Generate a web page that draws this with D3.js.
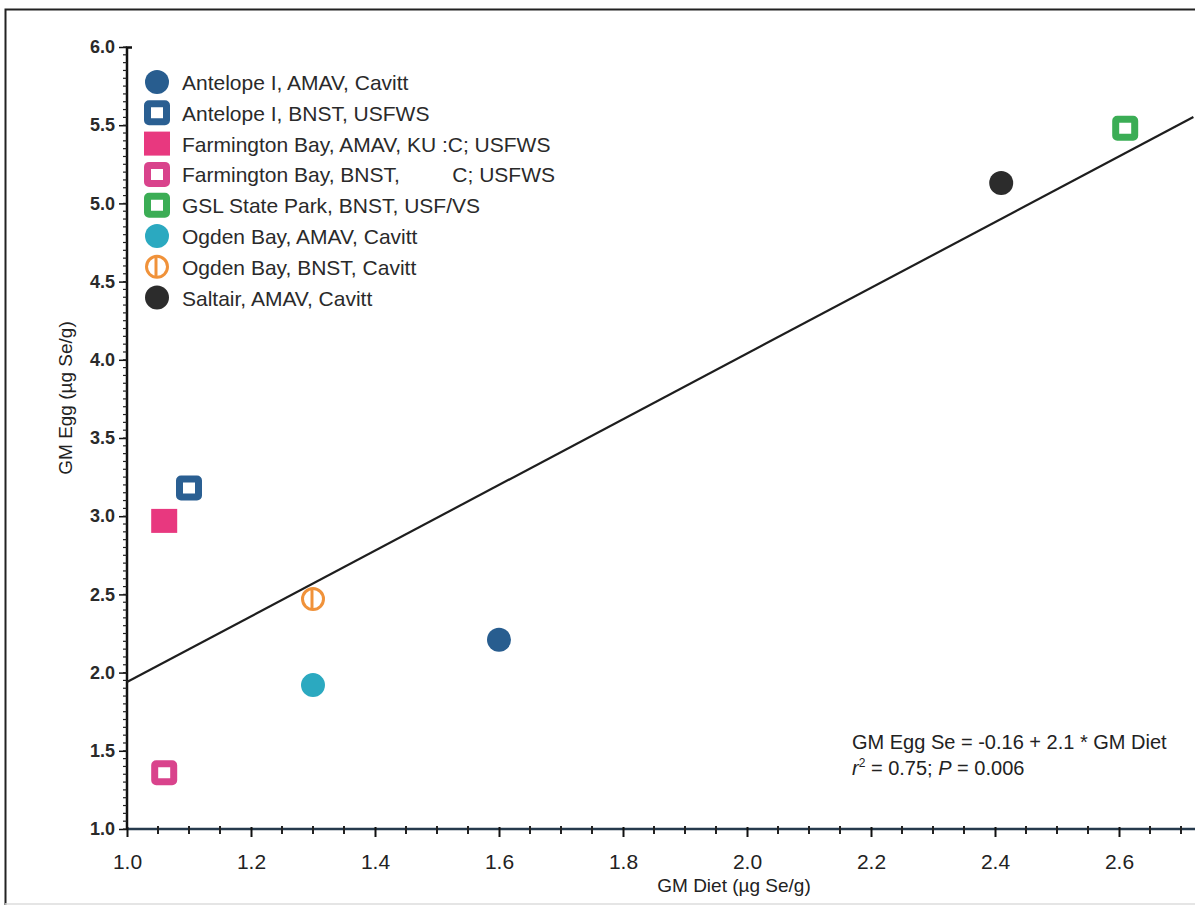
<!DOCTYPE html>
<html>
<head>
<meta charset="utf-8">
<script src="https://cdn.jsdelivr.net/npm/d3@7"></script>
<style>
  body { margin: 0; background: #fff; }
  svg { display: block; font-family: "Liberation Sans", Arial, sans-serif; }
</style>
</head>
<body>
<div id="chart"></div>
<script>
// site / species / source groups
var labels = [
  "Antelope I, AMAV, Cavitt",
  "Antelope I, BNST, USFWS",
  "Farmington Bay, AMAV, KU :C; USFWS",
  "Farmington Bay, BNST,         C; USFWS",
  "GSL State Park, BNST, USF/VS",
  "Ogden Bay, AMAV, Cavitt",
  "Ogden Bay, BNST, Cavitt",
  "Saltair, AMAV, Cavitt"
];
var shapes = ["circle", "openSquare", "square", "openSquare", "openSquare", "circle", "slashCircle", "circle"];
var colors = ["#285d8f", "#2a5f92", "#e8387f", "#d9438c", "#3bad55", "#2ba9c0", "#f0923a", "#2c2c2c"];
var dietSe = [1.60, 1.10, 1.06, 1.06, 2.61, 1.30, 1.30, 2.41];
var eggSe = [2.21, 3.18, 2.97, 1.36, 5.48, 1.92, 2.47, 5.13];

var xTicks = [1.0, 1.2, 1.4, 1.6, 1.8, 2.0, 2.2, 2.4, 2.6];
var yTicks = [1.0, 1.5, 2.0, 2.5, 3.0, 3.5, 4.0, 4.5, 5.0, 5.5, 6.0];

// fitted line: GM Egg Se = -0.16 + 2.1 * GM Diet
var fitIntercept = -0.16, fitSlope = 2.1;
var fitRange = [1.0, 2.72];

var width = 1195, height = 909;
var narrow = "'Liberation Sans Narrow', 'Liberation Sans', sans-serif";

var svg = d3.select("#chart").append("svg")
  .attr("width", width)
  .attr("height", height);

// outer frame (cropped at right)
svg.append("path")
  .attr("d", "M5.5,905 L5.5,9.5 L1195,9.5")
  .attr("fill", "none")
  .attr("stroke", "#222")
  .attr("stroke-width", 2);
svg.append("line")
  .attr("x1", 5).attr("x2", 1195).attr("y1", 904).attr("y2", 904)
  .attr("stroke", "#ddd").attr("stroke-width", 1.5);

var x = d3.scaleLinear().domain([1.0, 2.72]).range([127, 1193.4]);
var y = d3.scaleLinear().domain([1.0, 6.0]).range([829, 47]);

// y axis
var yAxis = svg.append("g")
  .attr("transform", "translate(127,0)")
  .call(d3.axisLeft(y).tickValues(yTicks).tickFormat(d3.format(".1f")).tickSize(8).tickPadding(4));
yAxis.select(".domain").attr("stroke", "#111").attr("stroke-width", 2.5).attr("d", "M5,47.5H0V830");
yAxis.selectAll(".tick line").attr("stroke", "#111").attr("stroke-width", 1.5);
yAxis.selectAll("text")
  .attr("font-size", 18).attr("font-weight", "bold").attr("fill", "#2a2a2a")
  .attr("font-family", "'Liberation Sans', Arial, sans-serif");

svg.append("g").selectAll("line")
  .data(d3.range(1.0, 6.0001, 0.05))
  .enter().append("line")
  .attr("x1", 123).attr("x2", 127)
  .attr("y1", function(d) { return y(d); })
  .attr("y2", function(d) { return y(d); })
  .attr("stroke", "#222").attr("stroke-width", 1.2);

// x axis
var xAxis = svg.append("g")
  .attr("transform", "translate(0,829)")
  .call(d3.axisBottom(x).tickValues(xTicks).tickFormat(d3.format(".1f")).tickSize(8).tickPadding(17));
xAxis.select(".domain").attr("stroke", "#263a4d").attr("stroke-width", 2.5).attr("d", "M127,0H1195");
xAxis.selectAll(".tick line").attr("stroke", "#111").attr("stroke-width", 2).attr("y1", -2);
xAxis.selectAll("text")
  .attr("font-size", 21).attr("fill", "#222")
  .attr("font-family", narrow);

svg.append("g").selectAll("line")
  .data(d3.range(1.05, 2.72, 0.05).filter(function(d) { return Math.abs(d * 5 - Math.round(d * 5)) > 0.01; }))
  .enter().append("line")
  .attr("x1", function(d) { return x(d); })
  .attr("x2", function(d) { return x(d); })
  .attr("y1", 826).attr("y2", 834)
  .attr("stroke", "#222").attr("stroke-width", 2);

// axis titles
svg.append("text")
  .attr("transform", "translate(72,398) rotate(-90)")
  .attr("text-anchor", "middle")
  .attr("font-size", 19)
  .attr("font-family", narrow)
  .attr("fill", "#222")
  .text("GM Egg (\u00b5g Se/g)");

svg.append("text")
  .attr("x", 734).attr("y", 892)
  .attr("text-anchor", "middle")
  .attr("font-size", 19)
  .attr("font-family", narrow)
  .attr("fill", "#222")
  .text("GM Diet (\u00b5g Se/g)");

// regression line
var fit = d3.line()
  .x(function(d) { return x(d); })
  .y(function(d) { return y(fitIntercept + fitSlope * d); });
svg.append("path")
  .datum(fitRange)
  .attr("d", fit)
  .attr("fill", "none")
  .attr("stroke", "#1e1e1e")
  .attr("stroke-width", 2.2);

// marker drawing
function drawMarker(g, shape, color) {
  if (shape === "circle") {
    g.append("circle").attr("r", 12).attr("fill", color);
  } else if (shape === "square") {
    g.append("rect").attr("x", -13).attr("y", -12).attr("width", 26).attr("height", 24).attr("fill", color);
  } else if (shape === "openSquare") {
    g.append("rect").attr("x", -9.5).attr("y", -9).attr("width", 19).attr("height", 18)
      .attr("fill", "#fff").attr("stroke", color).attr("stroke-width", 7).attr("rx", 1.5);
  } else if (shape === "slashCircle") {
    g.append("circle").attr("r", 10.5).attr("fill", "#fff").attr("stroke", color).attr("stroke-width", 3);
    g.append("line").attr("x1", -1).attr("x2", -1).attr("y1", -10.5).attr("y2", 10.5)
      .attr("stroke", color).attr("stroke-width", 3);
  }
}

var points = svg.append("g").selectAll("g")
  .data(d3.range(labels.length))
  .enter().append("g")
  .attr("transform", function(i) { return "translate(" + x(dietSe[i]) + "," + y(eggSe[i]) + ")"; });
points.each(function(i) { drawMarker(d3.select(this), shapes[i], colors[i]); });

// legend
var legend = svg.append("g").selectAll("g")
  .data(d3.range(labels.length))
  .enter().append("g")
  .attr("transform", function(i) { return "translate(157," + (82 + i * 30.8) + ")"; });
legend.each(function(i) {
  var g = d3.select(this);
  drawMarker(g, shapes[i], colors[i]);
  g.append("text")
    .attr("x", 25).attr("y", 8)
    .attr("font-size", 21)
    .attr("fill", "#2a2a2a")
    .style("white-space", "pre")
    .text(labels[i]);
});

// equation
svg.append("text")
  .attr("x", 852).attr("y", 749)
  .attr("font-size", 20)
  .attr("fill", "#222")
  .text("GM Egg Se = -0.16 + 2.1 * GM Diet");

var stats = svg.append("text")
  .attr("x", 852).attr("y", 775)
  .attr("font-size", 20)
  .attr("fill", "#222");
stats.append("tspan").attr("font-style", "italic").text("r");
stats.append("tspan").attr("font-size", 12).attr("dy", -8).text("2");
stats.append("tspan").attr("dy", 8).text(" = 0.75; ");
stats.append("tspan").attr("font-style", "italic").text("P");
stats.append("tspan").text(" = 0.006");
</script>
</body>
</html>
